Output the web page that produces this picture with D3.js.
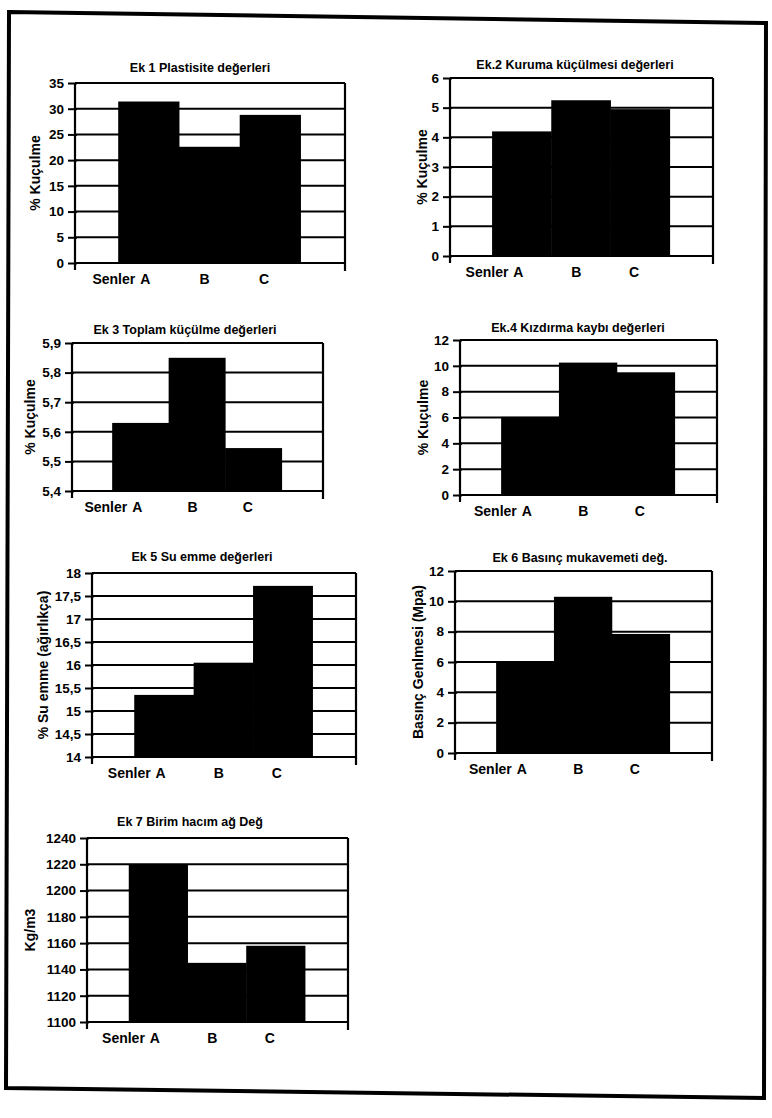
<!DOCTYPE html>
<html>
<head>
<meta charset="utf-8">
<script src="https://cdnjs.cloudflare.com/ajax/libs/d3/7.8.5/d3.min.js"></script>
<style>
  html, body { margin: 0; padding: 0; background: #fff; }
  svg { display: block; }
  text { font-family: "Liberation Sans", Arial, sans-serif; fill: #000; }
</style>
</head>
<body>
<svg id="chart" width="772" height="1118"></svg>
<script>
// ---------- DATA ----------
const seriesNames = ["A", "B", "C"];
const categoryLabel = "Senler";

const titles = [
  "Ek 1 Plastisite değerleri",
  "Ek.2 Kuruma küçülmesi değerleri",
  "Ek 3 Toplam küçülme değerleri",
  "Ek.4 Kızdırma kaybı değerleri",
  "Ek 5 Su emme değerleri",
  "Ek 6 Basınç mukavemeti değ.",
  "Ek 7 Birim hacım ağ  Değ"
];
const yTitles = [
  "% Kuçulme",
  "% Kuçulme",
  "% Kuçulme",
  "% Kuçulme",
  "% Su emme (ağırlıkça)",
  "Basınç Genlmesi (Mpa)",
  "Kg/m3"
];

const ek1Values = [31.4, 22.6, 28.8];
const ek2Values = [4.2, 5.25, 4.95];
const ek3Values = [5.63, 5.85, 5.545];
const ek4Values = [6.05, 10.25, 9.5];
const ek5Values = [15.35, 16.05, 17.72];
const ek6Values = [6.05, 10.3, 7.85];
const ek7Values = [1220, 1145, 1158];

const ek1Ticks = [0, 5, 10, 15, 20, 25, 30, 35];
const ek2Ticks = [0, 1, 2, 3, 4, 5, 6];
const ek3Ticks = [5.4, 5.5, 5.6, 5.7, 5.8, 5.9];
const ek4Ticks = [0, 2, 4, 6, 8, 10, 12];
const ek5Ticks = [14, 14.5, 15, 15.5, 16, 16.5, 17, 17.5, 18];
const ek6Ticks = [0, 2, 4, 6, 8, 10, 12];
const ek7Ticks = [1100, 1120, 1140, 1160, 1180, 1200, 1220, 1240];

const allValues = [ek1Values, ek2Values, ek3Values, ek4Values, ek5Values, ek6Values, ek7Values];
const allTicks = [ek1Ticks, ek2Ticks, ek3Ticks, ek4Ticks, ek5Ticks, ek6Ticks, ek7Ticks];

// ---------- LAYOUT (positions only) ----------
const layout = [
  { l: 75,  t: 83,  r: 345, b: 263,  tx: 200, ty: 72,  yx: 35 },
  { l: 450, t: 78,  r: 713, b: 256,  tx: 575, ty: 69,  yx: 422 },
  { l: 72,  t: 343, r: 323, b: 491,  tx: 185, ty: 334, yx: 30 },
  { l: 460, t: 340, r: 717, b: 495,  tx: 578, ty: 332, yx: 423 },
  { l: 92,  t: 573, r: 356, b: 757,  tx: 202, ty: 561, yx: 43 },
  { l: 455, t: 571, r: 712, b: 753,  tx: 580, ty: 562, yx: 418 },
  { l: 87,  t: 838, r: 348, b: 1022, tx: 190, ty: 826, yx: 30 }
];

const svg = d3.select("#chart");

// outer page frame
svg.append("path")
  .attr("d", "M9,12 L766,23 L764,1098 L6,1088 Z")
  .attr("fill", "none")
  .attr("stroke", "#000")
  .attr("stroke-width", 4);

const fmt = v => {
  const s = (Math.round(v * 1000) / 1000).toString();
  return s.replace(".", ",");
};

allValues.forEach((vals, i) => {
  const L = layout[i];
  const ticks = allTicks[i];
  const w = L.r - L.l, h = L.b - L.t;
  const g = svg.append("g").attr("transform", `translate(${L.l},${L.t})`);

  const y = d3.scaleLinear().domain([ticks[0], ticks[ticks.length - 1]]).range([h, 0]);
  const x = d3.scaleBand().domain(seriesNames).range([0.16 * w, 0.835 * w]).paddingInner(0).paddingOuter(0);
  const lx = d3.scalePoint().domain(seriesNames).range([0.26 * w, 0.70 * w]);

  // gridlines
  g.append("g").selectAll("line").data(ticks).join("line")
    .attr("x1", 0).attr("x2", w)
    .attr("y1", d => y(d)).attr("y2", d => y(d))
    .attr("stroke", "#000").attr("stroke-width", 2);

  // bars
  g.append("g").selectAll("rect").data(vals).join("rect")
    .attr("x", (d, j) => x(seriesNames[j]))
    .attr("width", x.bandwidth() + 0.5)
    .attr("y", d => y(d))
    .attr("height", d => h - y(d))
    .attr("fill", "#000");

  // y axis
  const yAxis = d3.axisLeft(y).tickValues(ticks).tickFormat(fmt).tickSize(7).tickPadding(4);
  const ya = g.append("g").call(yAxis);
  ya.select(".domain").attr("stroke-width", 2.2).attr("d", `M0,0V${h + 7}`);
  ya.selectAll(".tick line").attr("stroke-width", 2).attr("x2", -7).attr("x1", 2);
  ya.selectAll(".tick text")
    .style("font-family", "'Liberation Sans', Arial, sans-serif")
    .style("font-size", "13.5px")
    .style("font-weight", "bold");

  // x axis line and end ticks
  g.append("line").attr("x1", 0).attr("x2", w).attr("y1", h).attr("y2", h)
    .attr("stroke", "#000").attr("stroke-width", 2.2);
  g.append("line").attr("x1", w).attr("x2", w).attr("y1", 0).attr("y2", h + 8)
    .attr("stroke", "#000").attr("stroke-width", 2.2);

  // x labels
  g.append("g").selectAll("text").data(seriesNames).join("text")
    .attr("x", d => lx(d))
    .attr("y", h + 21)
    .attr("text-anchor", "middle")
    .style("font-size", "14px")
    .style("font-weight", "bold")
    .text(d => d);
  g.append("text")
    .attr("x", lx(seriesNames[0]) - 10)
    .attr("y", h + 21)
    .attr("text-anchor", "end")
    .style("font-size", "14px")
    .style("font-weight", "bold")
    .text(categoryLabel);

  // title
  svg.append("text")
    .attr("x", L.tx).attr("y", L.ty)
    .attr("text-anchor", "middle")
    .style("font-size", "12.5px")
    .style("font-weight", "bold")
    .text(titles[i]);

  // y title
  svg.append("text")
    .attr("transform", `translate(${L.yx},${L.t + h / 2}) rotate(-90)`)
    .attr("text-anchor", "middle")
    .attr("dominant-baseline", "central")
    .style("font-size", "14px")
    .style("font-weight", "bold")
    .text(yTitles[i]);
});
</script>
</body>
</html>
